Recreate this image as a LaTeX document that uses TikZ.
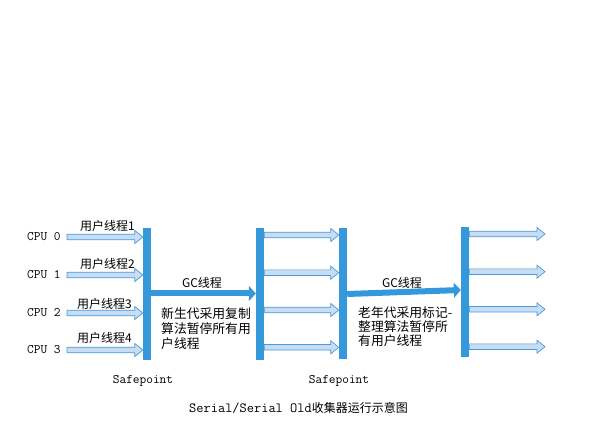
\documentclass[tikz,border=0pt]{standalone}
\usepackage{fontspec}
\usepackage{xcolor}
\usepackage{tikz}
\newfontfamily\cjk{Noto Sans CJK SC}
\usetikzlibrary{positioning,calc,arrows.meta}

\definecolor{barblue}{RGB}{52,152,219}
\definecolor{threadfill}{RGB}{200,221,242}
\definecolor{threadedge}{RGB}{70,155,222}

\tikzset{
  bar/.style={fill=barblue, draw=none, inner sep=0pt, minimum width=8pt},
  monolbl/.style={font=\ttfamily\fontsize{13}{15}\selectfont, inner sep=0pt},
  thrlbl/.style={font=\cjk\fontsize{12}{14}\selectfont, inner sep=0pt},
  blk/.style={font=\cjk\fontsize{12.8}{15}\selectfont, inner sep=0pt, align=left},
  gcarrow/.style={draw=barblue, line width=6pt, -{Triangle[length=7pt,width=15pt]}},
  thread/.style={draw=threadedge, fill=threadfill, line width=0.7pt},
}

% hollow thread arrow from #1 to #2
\newcommand{\cputhread}[2]{%
  \draw[thread] ($(#1)+(0,-2.8)$) -- ($(#2)+(-8,-2.8)$) -- ($(#2)+(-8,-6.5)$) -- (#2)
    -- ($(#2)+(-8,6.5)$) -- ($(#2)+(-8,2.8)$) -- ($(#1)+(0,2.8)$) -- cycle;}

\begin{document}
\begin{tikzpicture}[x=1pt, y=-1pt]
        \useasboundingbox (0,0) rectangle (603,430);

        % safepoint bars
        \node[bar, minimum height=132pt] (b1) at (147,294) {};
        \node[bar, minimum height=132pt] (b2) at (260,294) {};
        \node[bar, minimum height=131pt] (b3) at (343,293.5) {};
        \node[bar, minimum height=130pt] (b4) at (465,292) {};

        % user threads before the first safepoint
        \foreach \i/\y in {0/237,1/275,2/313,3/350} {
           \coordinate (a\i) at (67,\y);
           \coordinate (ae\i) at (b1.west |- a\i);
           \cputhread{a\i}{ae\i}
           \node[monolbl, anchor=west] (cpu\i) at (27,\y) {CPU \i};
        }
        \foreach \i/\x/\y in {1/80/226,2/80/264,3/77/304,4/77/338} {
           \node[thrlbl, anchor=west] (ut\i) at (\x,\y) {用户线程\i};
        }

        % user threads between the collections
        \foreach \i/\y in {0/235,1/272.7,2/310,3/347.3} {
           \coordinate (m\i) at (b2.east |- 0,\y);
           \coordinate (me\i) at (b3.west |- 0,\y);
           \cputhread{m\i}{me\i}
        }

        % user threads after the last safepoint
        \foreach \i/\y in {0/234,1/271.7,2/309.3,3/346.7} {
           \coordinate (c\i) at (b4.east |- 0,\y);
           \coordinate (ce\i) at (545,\y);
           \cputhread{c\i}{ce\i}
        }

        % GC threads
        \draw[gcarrow] (b1.east |- 0,293.5) -- (b2.west |- 0,293.5);
        \draw[gcarrow] (b3.east |- 0,294) -- (b4.west |- 0,290);
        \node[thrlbl] (gc1) at (202,283) {GC线程};
        \node[thrlbl] (gc2) at (402,283) {GC线程};
        \node[blk, anchor=west] (young) at (161,329) {新生代采用复制\\算法暂停所有用\\户线程};
        \node[blk, anchor=west, font=\cjk\fontsize{12.8}{14}\selectfont] (old) at (358,326.5) {老年代采用标记-\\整理算法暂停所\\有用户线程};

        \node[monolbl, below=15pt of b1, xshift=-4pt] (sp1) {Safepoint};
        \node[monolbl, below=16pt of b3, xshift=-4pt] (sp2) {Safepoint};
        \node[inner sep=0pt] (title) at (298.5,408) {{\ttfamily\fontsize{14}{16}\selectfont Serial/Serial Old}{\cjk\fontsize{12}{14}\selectfont 收集器运行示意图}};
\end{tikzpicture}
\end{document}
